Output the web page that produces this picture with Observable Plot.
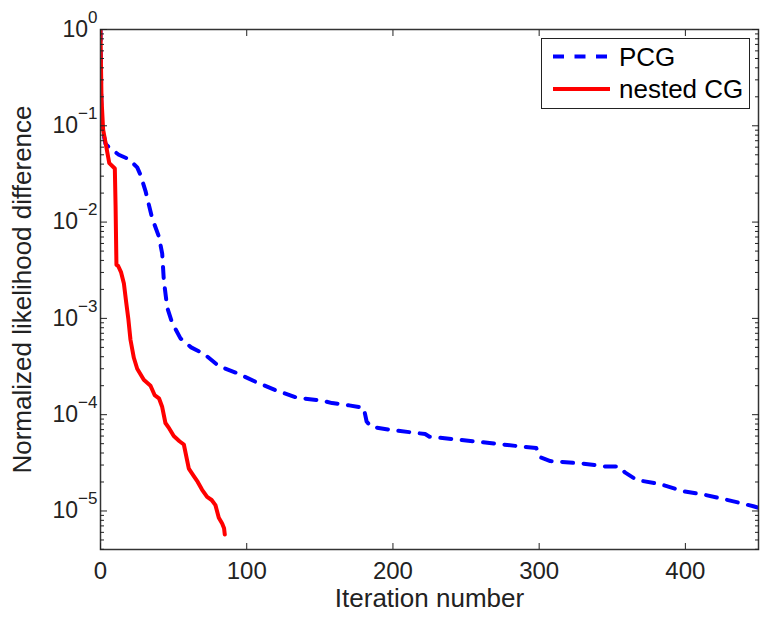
<!DOCTYPE html>
<html><head><meta charset="utf-8">
<script src="https://cdn.jsdelivr.net/npm/d3@7"></script>
<script src="https://cdn.jsdelivr.net/npm/@observablehq/plot@0.6"></script>
<style>
body{margin:0;background:#fff;}
#wrap{position:relative;width:771px;height:619px;font-family:"Liberation Sans",Arial,sans-serif;}
#legend{position:absolute;left:541px;top:38px;}
</style></head><body><div id="wrap"></div>
<script>
const pcgIter = [0,0.7,3.4,5.7,12.5,19.4,25.1,27.3,30.8,35.3,39.9,42.2,43.3,45.6,49,54.7,62,70.6,80.9,93.4,105.9,119.6,134.4,151.5,158.4,170,180,182,185,200,222,225,250,275,298,301,307.6,330.4,345.2,354.3,358.9,366.8,382.8,398.7,412.4,427.2,446.5,450];
const pcgValue = [1,0.105,0.065,0.06,0.05,0.045,0.037,0.031,0.021,0.011,0.0071,0.0047,0.0025,0.0013,0.0009,0.00062,0.0005,0.00043,0.00032,0.00027,0.00022,0.00018,0.00015,0.00014,0.000132,0.000125,0.000118,0.000085,0.000075,0.000069,0.000063,0.000059,0.000054,0.000049,0.000045,0.000036,0.000033,0.000031,0.000029,0.000029,0.000025,0.000021,0.000019,0.000016,0.0000148,0.0000132,0.0000112,0.0000108];
const nestedIter = [0,0.3,0.7,1.8,3.6,6,9.8,10.3,10.9,12.1,14.1,16,17.5,19,20.5,22.8,25.1,29.6,34.2,37,40,42.2,44.4,47,50.1,54,57,60.4,63.8,66.5,69.5,72.9,76,78.6,80.9,83.2,84.5,85];
const nestedValue = [1,0.45,0.19,0.091,0.065,0.041,0.036,0.015,0.0036,0.0035,0.003,0.0023,0.0015,0.001,0.0006,0.00039,0.0003,0.00023,0.0002,0.00016,0.000148,0.00012,0.000082,0.000072,0.00006,0.000053,0.000049,0.0000275,0.000023,0.00002,0.0000166,0.000014,0.000013,0.0000115,0.0000085,0.0000074,0.0000066,0.0000057];
const xTickValues = [0,100,200,300,400];
const yTickValues = [1,0.1,0.01,0.001,1e-4,1e-5];
const yTickExponents = ["0","\u22121","\u22122","\u22123","\u22124","\u22125"];
const yMinorTicks = [2e-6,3e-6,4e-6,5e-6,6e-6,7e-6,8e-6,9e-6,2e-5,3e-5,4e-5,5e-5,6e-5,7e-5,8e-5,9e-5,2e-4,3e-4,4e-4,5e-4,6e-4,7e-4,8e-4,9e-4,0.002,0.003,0.004,0.005,0.006,0.007,0.008,0.009,0.02,0.03,0.04,0.05,0.06,0.07,0.08,0.09,0.2,0.3,0.4,0.5,0.6,0.7,0.8,0.9];
const seriesNames = ["PCG","nested CG"];
const seriesColors = ["#0000ff","#ff0000"];
const xLabel = "Iteration number";
const yLabel = "Normalized likelihood difference";

const yMin = Math.pow(10,-5.4);
const pcg = pcgIter.map((x,i)=>({x, y: pcgValue[i]}));
const nested = nestedIter.map((x,i)=>({x, y: nestedValue[i]}));
const minor = yMinorTicks.filter(v => v >= yMin);
const blank = () => "";

const chart = Plot.plot({
  width: 771, height: 619,
  marginLeft: 100, marginRight: 13, marginTop: 29, marginBottom: 70,
  style: {fontFamily: "Liberation Sans, Arial, sans-serif", fontSize: "23px", color: "#222", background: "#fff"},
  x: {domain: [0, 450]},
  y: {type: "log", domain: [yMin, 1]},
  marks: [
    Plot.line(pcg, {x: "x", y: "y", stroke: seriesColors[0], strokeWidth: 4, strokeDasharray: "11,10.5", clip: true}),
    Plot.line(nested, {x: "x", y: "y", stroke: seriesColors[1], strokeWidth: 4, clip: true}),
    Plot.frame({stroke: "#333", strokeWidth: 1.5}),
    Plot.axisX({anchor: "bottom", ticks: xTickValues, tickSize: -6, tickPadding: 18, fontSize: 24, label: xLabel, labelAnchor: "center", labelOffset: 57, labelArrow: "none"}),
    Plot.axisX({anchor: "top", ticks: xTickValues, tickSize: -6, tickFormat: blank, label: null}),
    Plot.axisY({anchor: "left", ticks: yTickValues, tickSize: -7, tickPadding: 10, fontSize: 23,
      tickFormat: d => "10|" + yTickExponents[yTickValues.indexOf(d)],
      label: yLabel, labelAnchor: "center", labelOffset: 88, labelArrow: "none"}),
    Plot.axisY({anchor: "left", ticks: minor, tickSize: -4, tickFormat: blank, label: null}),
    Plot.axisY({anchor: "right", ticks: yTickValues, tickSize: -7, tickFormat: blank, label: null}),
    Plot.axisY({anchor: "right", ticks: minor, tickSize: -4, tickFormat: blank, label: null})
  ]
});

// superscript exponents on y tick labels
chart.querySelectorAll('g[aria-label="y-axis tick label"] text').forEach(t => {
  const s = t.textContent;
  if (!s.includes("|")) return;
  const [base, exp] = s.split("|");
  t.textContent = base;
  const ts = document.createElementNS("http://www.w3.org/2000/svg", "tspan");
  ts.setAttribute("dy", "-14px");
  ts.setAttribute("font-size", "17px");
  ts.textContent = exp;
  t.appendChild(ts);
});
chart.querySelectorAll('g[aria-label="x-axis label"] text, g[aria-label="y-axis label"] text').forEach(t => {
  t.setAttribute("font-size", "26px");
  t.style.fontSize = "26px";
});

const wrap = document.getElementById("wrap");
wrap.appendChild(chart);

// legend
const NS = "http://www.w3.org/2000/svg";
const lg = document.createElementNS(NS, "svg");
lg.setAttribute("id", "legend");
lg.setAttribute("width", 210);
lg.setAttribute("height", 72);
lg.innerHTML = `<rect x="0.5" y="0.5" width="208" height="70" fill="#fff" stroke="#222" stroke-width="1"/>`;
seriesNames.forEach((name, i) => {
  const cy = 18.5 + i * 32.5;
  const ln = document.createElementNS(NS, "line");
  ln.setAttribute("x1", 12); ln.setAttribute("x2", 69);
  ln.setAttribute("y1", cy); ln.setAttribute("y2", cy);
  ln.setAttribute("stroke", seriesColors[i]);
  ln.setAttribute("stroke-width", 4);
  if (i === 0) ln.setAttribute("stroke-dasharray", "11,10.5");
  lg.appendChild(ln);
  const tx = document.createElementNS(NS, "text");
  tx.setAttribute("x", 78); tx.setAttribute("y", cy + 9);
  tx.setAttribute("font-size", "26px");
  tx.setAttribute("font-family", "Liberation Sans, Arial, sans-serif");
  tx.setAttribute("fill", "#000");
  tx.textContent = name;
  lg.appendChild(tx);
});
wrap.appendChild(lg);
</script></body></html>
